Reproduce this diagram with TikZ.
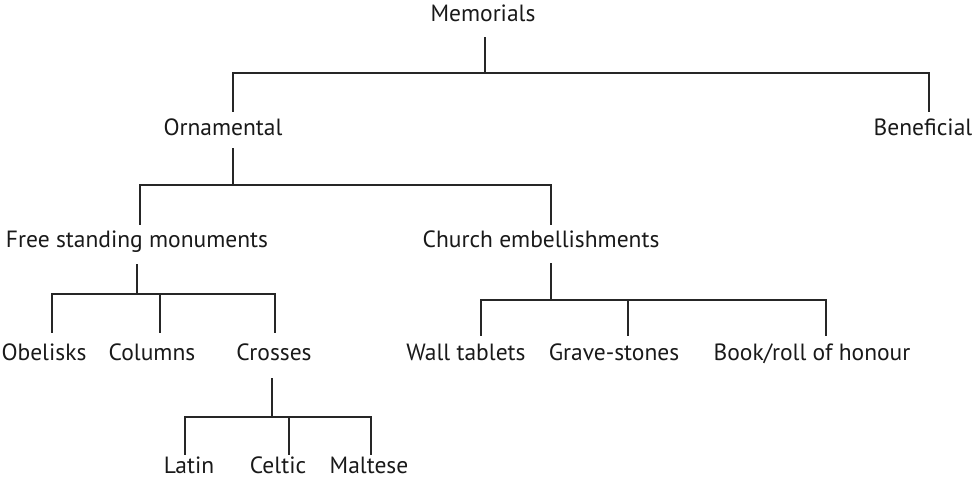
\documentclass[tikz,border=0pt]{standalone}
\usepackage{fontspec}
\setmainfont{PT Sans}
\begin{document}
\begin{tikzpicture}[x=1pt,y=-1pt,
  lbl/.style={font=\fontsize{23.5}{26}\selectfont, text=black!90, inner sep=0pt, text height=14pt, text depth=4pt},
  conn/.style={draw=black!85, line width=1.8pt, line cap=butt, line join=miter}]
\useasboundingbox (0,0) rectangle (975,478);
% nodes
\node[lbl] (mem) at (483,17) {Memorials};
\node[lbl] (orn) at (223,131) {Ornamental};
\node[lbl] (ben) at (923,131) {Beneficial};
\node[lbl] (fsm) at (137,243) {Free standing monuments};
\node[lbl] (che) at (541,243) {Church embellishments};
\node[lbl] (obe) at (44,355) {Obelisks};
\node[lbl] (col) at (152,355) {Columns};
\node[lbl] (cro) at (274,355) {Crosses};
\node[lbl] (wal) at (466,355) {Wall tablets};
\node[lbl] (gra) at (614,355) {Grave-stones};
\node[lbl] (boo) at (812,355) {Book/roll of honour};
\node[lbl] (lat) at (189,468) {Latin};
\node[lbl] (cel) at (278,468) {Celtic};
\node[lbl] (mal) at (369,468) {Maltese};
% junctions
\coordinate (j1) at (485,73);
\coordinate (j1a) at (233,73);
\coordinate (j1b) at (929,73);
\coordinate (j2) at (233,185);
\coordinate (j2a) at (140,185);
\coordinate (j2b) at (551,185);
\coordinate (j3) at (137,294);
\coordinate (j3a) at (52,294);
\coordinate (j3b) at (160,294);
\coordinate (j3c) at (275,294);
\coordinate (j4) at (551,300);
\coordinate (j4a) at (481,300);
\coordinate (j4b) at (628,300);
\coordinate (j4c) at (826,300);
\coordinate (j5) at (272,417);
\coordinate (j5a) at (185,417);
\coordinate (j5b) at (289,417);
\coordinate (j5c) at (371,417);
% level 1
\draw[conn] ([yshift=-11pt]mem.south -| j1) -- (j1);
\draw[conn] ([yshift=10pt]orn.north -| j1a) -- (j1a) -- (j1b) -- ([yshift=10pt]ben.north -| j1b);
% level 2
\draw[conn] ([yshift=-8pt]orn.south -| j2) -- (j2);
\draw[conn] ([yshift=9pt]fsm.north -| j2a) -- (j2a) -- (j2b) -- ([yshift=9pt]che.north -| j2b);
% level 3 left
\draw[conn] ([yshift=-12pt]fsm.south -| j3) -- (j3);
\draw[conn] ([yshift=13pt]obe.north -| j3a) -- (j3a) -- (j3c) -- ([yshift=13pt]cro.north -| j3c);
\draw[conn] (j3b) -- ([yshift=13pt]col.north -| j3b);
% level 3 right
\draw[conn] ([yshift=-11pt]che.south -| j4) -- (j4);
\draw[conn] ([yshift=10pt]wal.north -| j4a) -- (j4a) -- (j4c) -- ([yshift=10pt]boo.north -| j4c);
\draw[conn] (j4b) -- ([yshift=10pt]gra.north -| j4b);
% level 4
\draw[conn] ([yshift=-14pt]cro.south -| j5) -- (j5);
\draw[conn] ([yshift=4pt]lat.north -| j5a) -- (j5a) -- (j5c) -- ([yshift=4pt]mal.north -| j5c);
\draw[conn] (j5b) -- ([yshift=4pt]cel.north -| j5b);
\end{tikzpicture}
\end{document}
